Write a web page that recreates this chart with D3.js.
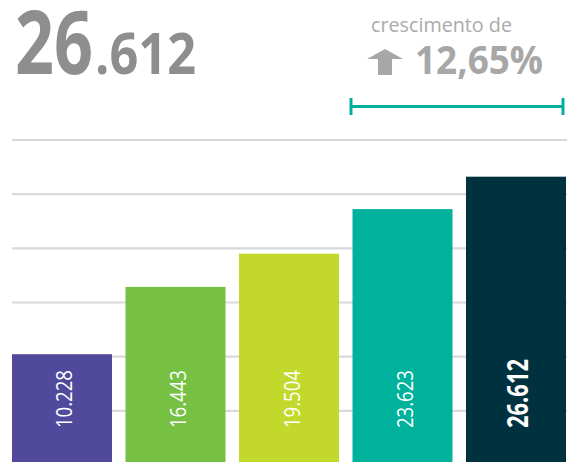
<!DOCTYPE html>
<html>
<head>
<meta charset="utf-8">
<script src="https://cdn.jsdelivr.net/npm/d3@7"></script>
<style>
  body { margin: 0; background: #fff; }
  svg { display: block; font-family: "Open Sans", sans-serif; }
</style>
</head>
<body>
<div id="chart"></div>
<script>
  // chart data
  var categories = ["a1", "a2", "a3", "a4", "a5"];
  var values = [10228, 16443, 19504, 23623, 26612];
  var valueLabels = ["10.228", "16.443", "19.504", "23.623", "26.612"];
  var barColors = ["#51499c", "#76c143", "#c2d92b", "#00b29c", "#00313e"];
  var gridTicks = [5000, 10000, 15000, 20000, 25000, 30000];
  var totalMain = "26";
  var totalRest = ".612";
  var growthTitle = "crescimento de";
  var growthValue = "12,65%";

  var width = 567;
  var height = 462;

  var svg = d3.select("#chart").append("svg")
      .attr("width", width)
      .attr("height", height);

  // scales
  var x = d3.scaleBand()
      .domain(categories)
      .range([12, 566])
      .paddingInner(0.119)
      .paddingOuter(0);

  var y = d3.scaleLinear()
      .domain([0, 30000])
      .range([465, 140]);

  // horizontal grid lines
  svg.append("g")
      .attr("class", "grid")
    .selectAll("line")
    .data(gridTicks)
    .enter().append("line")
      .attr("x1", 12)
      .attr("x2", width)
      .attr("y1", function(d) { return y(d); })
      .attr("y2", function(d) { return y(d); })
      .attr("stroke", "#d9d9d9")
      .attr("stroke-width", 2.2);

  // bars
  svg.append("g")
      .attr("class", "bars")
    .selectAll("rect")
    .data(values)
    .enter().append("rect")
      .attr("x", function(d, i) { return x(categories[i]); })
      .attr("y", function(d) { return y(d); })
      .attr("width", x.bandwidth())
      .attr("height", function(d) { return y(0) - y(d); })
      .attr("fill", function(d, i) { return barColors[i]; });

  // rotated value labels inside the bars, last one is bold
  svg.append("g")
      .attr("class", "labels")
    .selectAll("text")
    .data(values)
    .enter().append("text")
      .attr("transform", function(d, i) {
        var cx = x(categories[i]) + x.bandwidth() / 2;
        var off = i === values.length - 1 ? 12 : 10.5;
        return "translate(" + (cx + off) + ",428) rotate(-90)";
      })
      .attr("fill", "#fff")
      .attr("font-size", function(d, i) { return i === values.length - 1 ? 28 : 21.5; })
      .attr("font-weight", function(d, i) { return i === values.length - 1 ? 700 : 400; })
      .attr("textLength", function(d, i) { return i === values.length - 1 ? 69 : 58; })
      .attr("lengthAdjust", "spacingAndGlyphs")
      .text(function(d, i) { return valueLabels[i]; });

  // big total at top left
  svg.append("text")
      .attr("x", 15)
      .attr("y", 74)
      .attr("fill", "#8e8e8f")
      .attr("font-size", 88)
      .attr("font-weight", 700)
      .attr("textLength", 78)
      .attr("lengthAdjust", "spacingAndGlyphs")
      .text(totalMain);

  svg.append("text")
      .attr("x", 95)
      .attr("y", 74)
      .attr("fill", "#8e8e8f")
      .attr("font-size", 58)
      .attr("font-weight", 700)
      .attr("textLength", 101)
      .attr("lengthAdjust", "spacingAndGlyphs")
      .text(totalRest);

  // growth block at top right
  svg.append("text")
      .attr("x", 371)
      .attr("y", 32)
      .attr("fill", "#ababab")
      .attr("font-size", 20)
      .attr("textLength", 141)
      .attr("lengthAdjust", "spacingAndGlyphs")
      .text(growthTitle);

  svg.append("path")
      .attr("d", "M367,59 L385,49 L403,59 L392,59 L392,75 L378,75 L378,59 Z")
      .attr("fill", "#a7a7a7");

  svg.append("text")
      .attr("x", 415)
      .attr("y", 74)
      .attr("fill", "#a7a7a7")
      .attr("font-size", 40)
      .attr("font-weight", 700)
      .attr("textLength", 128)
      .attr("lengthAdjust", "spacingAndGlyphs")
      .text(growthValue);

  // teal bracket under the growth value
  var bracket = svg.append("g")
      .attr("stroke", "#00b09c")
      .attr("stroke-width", 3);

  bracket.append("line")
      .attr("x1", 350).attr("x2", 564)
      .attr("y1", 106.5).attr("y2", 106.5);

  bracket.selectAll(".tick")
      .data([351, 563])
      .enter().append("line")
      .attr("class", "tick")
      .attr("x1", function(d) { return d; })
      .attr("x2", function(d) { return d; })
      .attr("y1", 98)
      .attr("y2", 115);
</script>
</body>
</html>
